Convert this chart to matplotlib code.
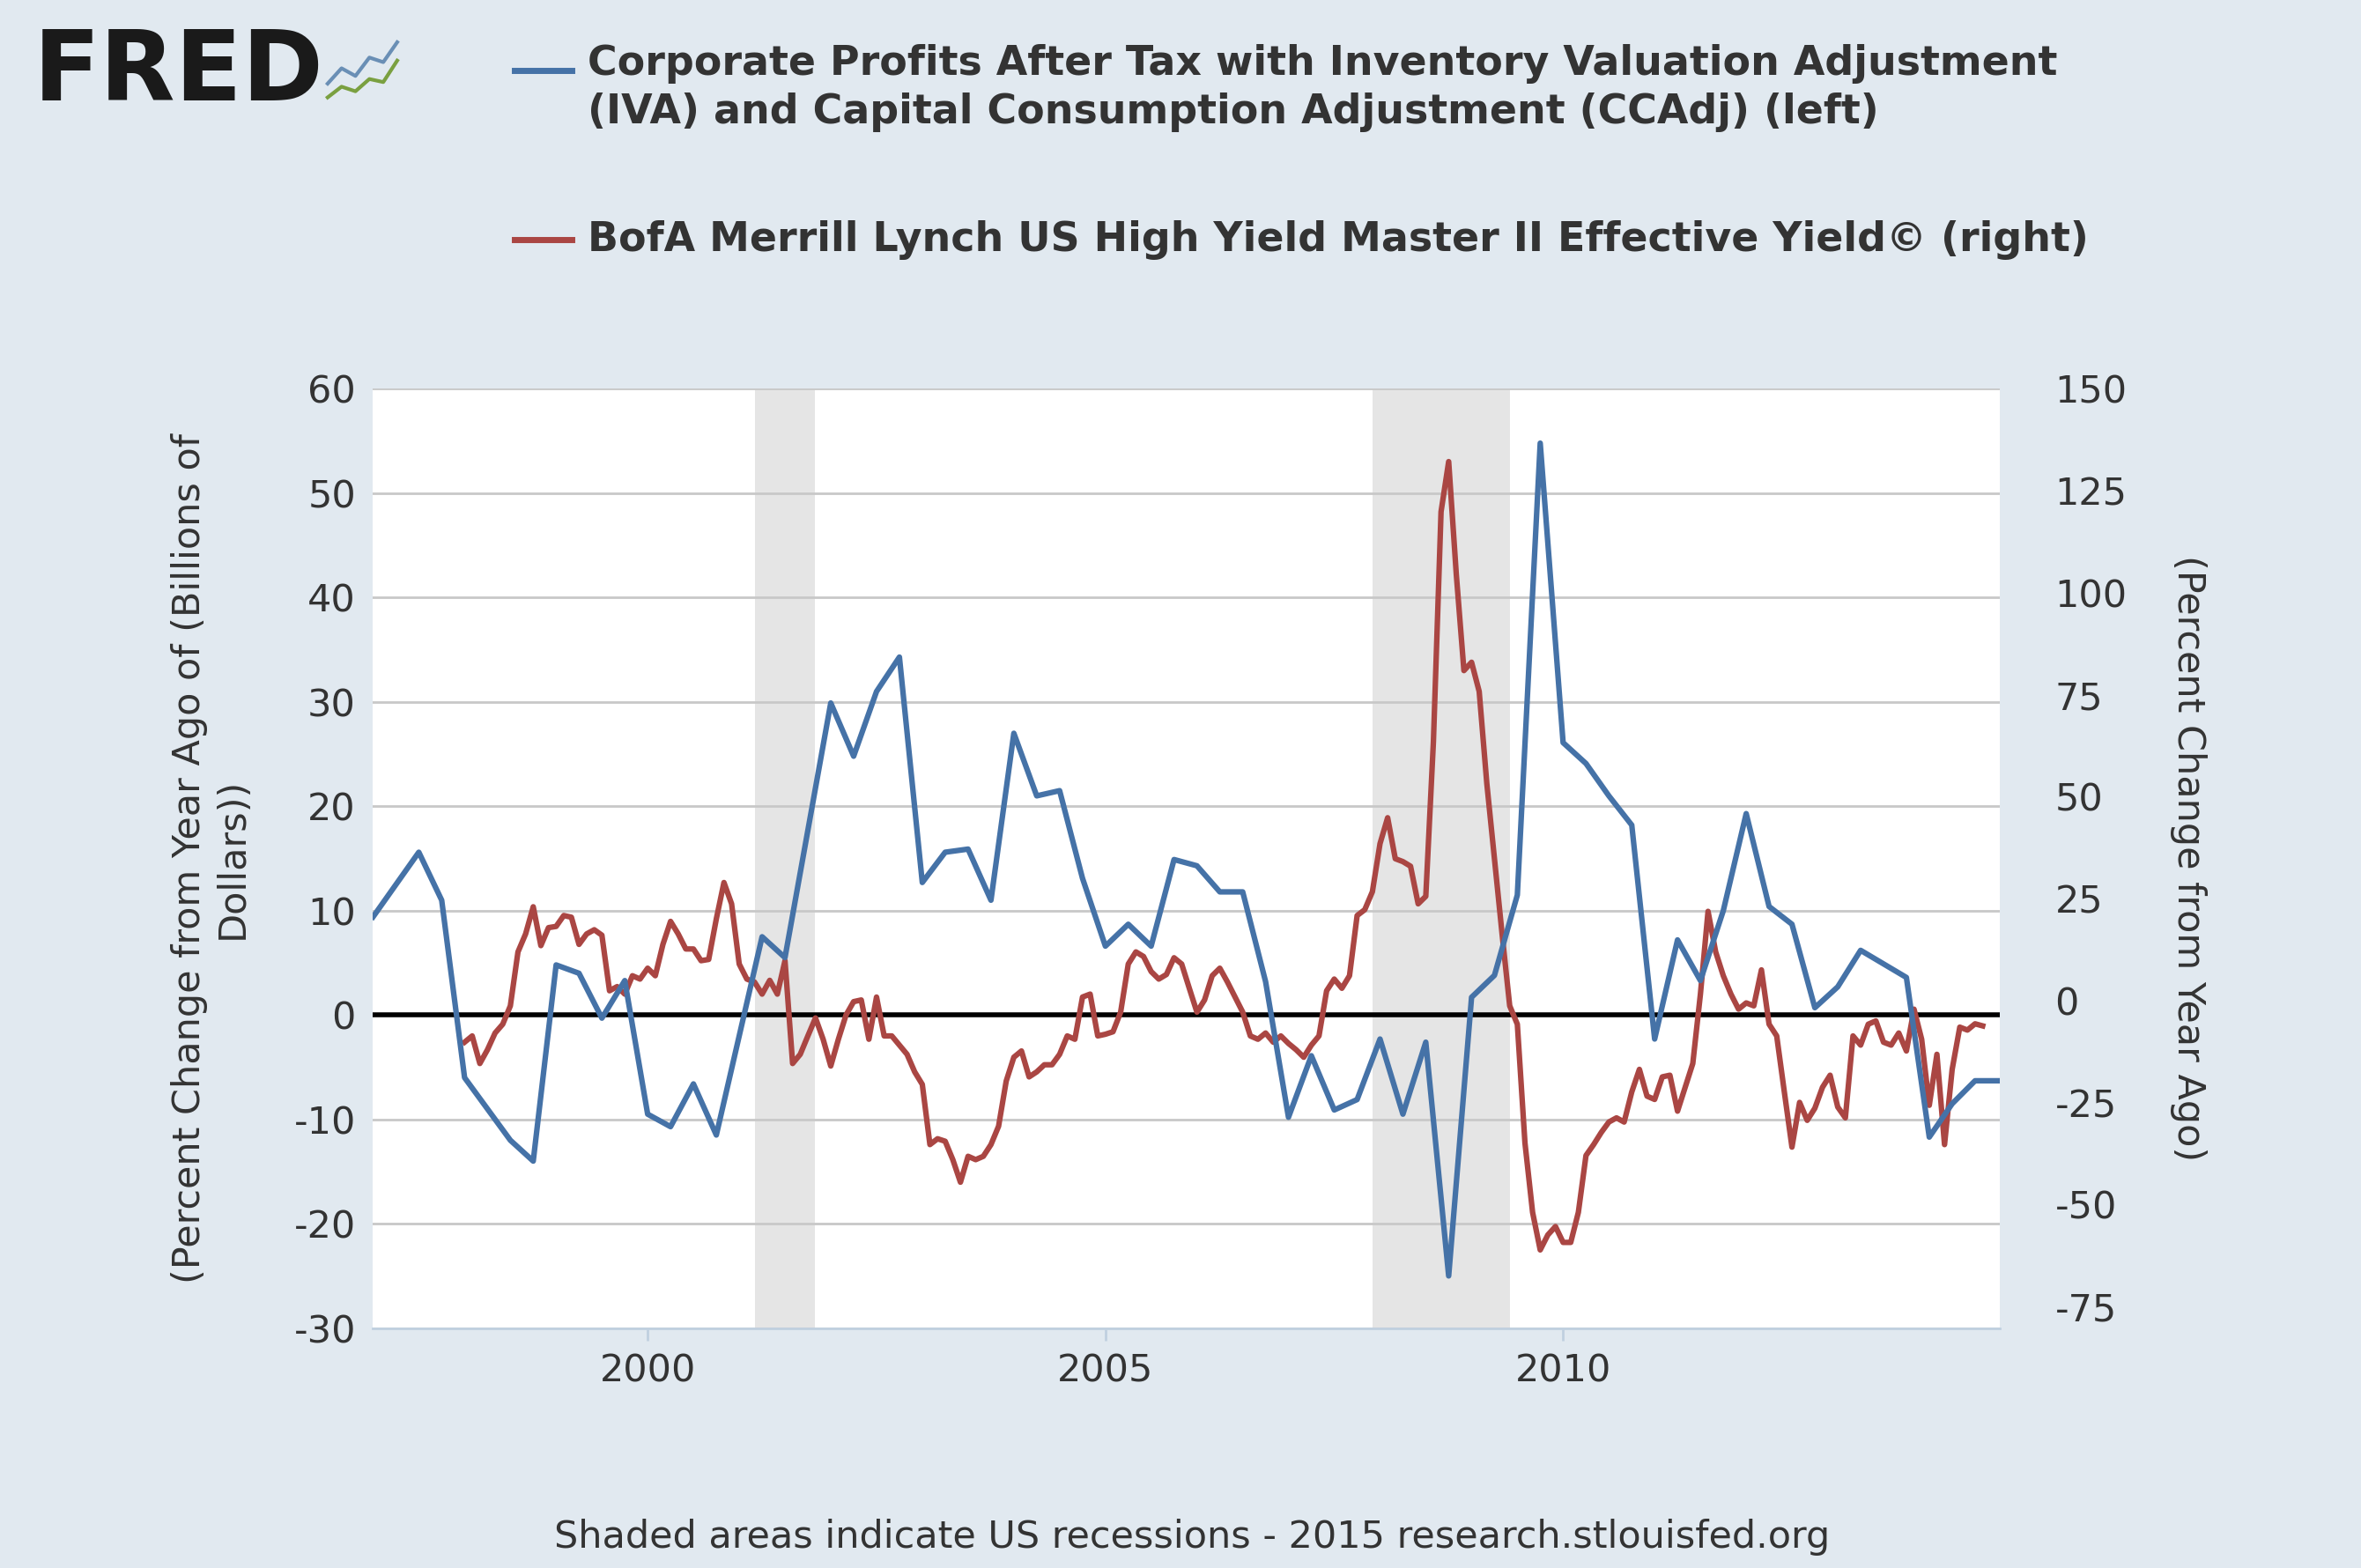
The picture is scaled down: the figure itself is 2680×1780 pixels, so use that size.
import matplotlib
matplotlib.use("Agg")
import matplotlib.pyplot as plt
import numpy as np

plt.rcParams["axes.unicode_minus"] = False

# Blue: quarterly corporate profits % change (left)
blue_t = [1997.0,1997.25,1997.5,1997.75,1998.0,1998.25,1998.5,1998.75,1999.0,1999.25,1999.5,1999.75,
          2000.0,2000.25,2000.5,2000.75,2001.0,2001.25,2001.5,2001.75,2002.0,2002.25,2002.5,2002.75,
          2003.0,2003.25,2003.5,2003.75,2004.0,2004.25,2004.5,2004.75,2005.0,2005.25,2005.5,2005.75,
          2006.0,2006.25,2006.5,2006.75,2007.0,2007.25,2007.5,2007.75,2008.0,2008.25,2008.5,2008.75,
          2009.0,2009.25,2009.5,2009.75,2010.0,2010.25,2010.5,2010.75,2011.0,2011.25,2011.5,2011.75,
          2012.0,2012.25,2012.5,2012.75,2013.0,2013.25,2013.5,2013.75,2014.0,2014.25,2014.5,2014.75]
blue_v = [9.4,12.5,15.6,11.0,-6.0,-9.0,-12.0,-14.0,4.8,4.0,-0.3,3.3,
          -9.5,-10.7,-6.6,-11.5,-2.0,7.5,5.5,17.7,29.9,24.8,31.0,34.3,
          12.7,15.6,15.9,11.0,27.0,21.0,21.5,13.1,6.6,8.7,6.6,14.9,
          14.3,11.8,11.8,3.2,-9.8,-3.9,-9.1,-8.1,-2.3,-9.5,-2.6,-25.0,
          1.7,3.8,11.5,54.8,26.1,24.1,21.0,18.2,-2.3,7.2,3.3,10.0,
          19.3,10.4,8.7,0.7,2.7,6.2,4.9,3.6,-11.7,-8.5,-6.3,-6.3]

# Red: monthly high-yield effective yield % change (right), from Jan 1998
red_v = [-11.9,-10.4,-17,-13.7,-9.7,-7.6,-3.2,9.7,14,20.5,11.2,15.5,
         15.8,18.4,18,11.5,14,15,13.7,0.4,1.4,-0.4,4,3.2,
         5.8,4,11.5,17,14,10.4,10.4,7.6,7.9,17.6,26.3,21.2,
         6.8,3.2,2.5,-0.4,2.9,-0.4,7.6,-17,-14.8,-10.4,-6.1,-11.2,
         -17.6,-11.2,-5.4,-2.2,-1.8,-11.2,-1.1,-10.4,-10.4,-12.6,-14.8,-19,
         -22,-36.4,-35,-35.6,-40,-45.4,-39.2,-40,-39.2,-36.4,-32,-21.2,
         -15.5,-14,-20.2,-19,-17.3,-17.3,-14.8,-10.4,-11.2,-1.1,-0.4,-10.4,
         -10,-9.4,-4.7,6.8,9.7,8.6,5,3.2,4.3,8.3,6.8,1,
         -4.7,-1.8,4,5.8,2.5,-1.1,-4.7,-10.4,-11.2,-9.7,-11.9,-10.4,
         -12.2,-13.7,-15.5,-12.6,-10.4,0.4,3.2,1,4,18.4,19.8,24.1,
         35.6,41.8,32,31.3,30.2,21.2,23,60,115,127,100,77,
         79,72,50,32,14,-3.2,-7.6,-36,-52.6,-61.6,-58,-56,
         -59.8,-59.8,-52.6,-39,-36.4,-33.5,-31,-30,-31,-23.8,-18.4,-24.8,
         -25.6,-20.2,-19.8,-28.4,-22.7,-17,-0.4,19.4,9.7,4,-0.4,-4,
         -2.5,-3.2,5.4,-7.6,-10.4,-23.8,-37,-26.3,-30.6,-27.7,-22.7,-19.8,
         -27.4,-30,-10.4,-12.6,-7.6,-6.8,-11.9,-12.6,-9.7,-14,-4,-11.2,
         -27,-14.8,-36.4,-18.4,-8.3,-9,-7.5,-8]
red_t = 1998.0 + np.arange(len(red_v)) / 12.0

recessions = [(2001.17, 2001.83), (2007.92, 2009.42)]

L_LIM = (-30, 60)
R_LIM = (-80.3, 144.4)
red_on_left = [L_LIM[0] + (r - R_LIM[0]) / (R_LIM[1] - R_LIM[0]) * (L_LIM[1] - L_LIM[0]) for r in red_v]

BG = "#e1e9f0"
fig = plt.figure(figsize=(26.8, 17.8), dpi=100, facecolor=BG)
ax = fig.add_axes([0.158, 0.153, 0.689, 0.599])
ax.set_facecolor("white")
for a, b in recessions:
    ax.axvspan(a, b, color="#e5e5e5", zorder=0, lw=0)
for y in range(-30, 61, 10):
    ax.axhline(y, color="#c8c8c8", lw=2, zorder=1)
ax.axhline(0, color="black", lw=4, zorder=2)
ax.plot(red_t, red_on_left, color="#aa4643", lw=4.5, zorder=3)
ax.plot(blue_t, blue_v, color="#4572a7", lw=4.5, zorder=4)
ax.set_xlim(1997.0, 2014.77)
ax.set_ylim(*L_LIM)
ax.set_yticks(range(-30, 61, 10))
ax.set_xticks([2000, 2005, 2010])
for s in ["top", "left", "right"]:
    ax.spines[s].set_visible(False)
ax.spines["bottom"].set_color("#c0d0e0")
ax.spines["bottom"].set_linewidth(2)
ax.tick_params(axis="y", length=0, labelsize=31, labelcolor="#333333", pad=14)
ax.tick_params(axis="x", length=10, width=2, color="#c0d0e0", labelsize=31, labelcolor="#333333", pad=10)
ax.set_ylabel("(Percent Change from Year Ago of (Billions of\nDollars))", fontsize=31, color="#333333", labelpad=35)

ax2 = ax.twinx()
ax2.set_ylim(*R_LIM)
ax2.set_yticks(range(-75, 151, 25))
for s in ["top", "left", "right", "bottom"]:
    ax2.spines[s].set_visible(False)
ax2.tick_params(axis="y", length=0, labelsize=31, labelcolor="#333333", pad=45)
ax2.set_ylabel("(Percent Change from Year Ago)", fontsize=31, color="#333333", rotation=270, labelpad=65)

# legend
fig.lines.append(plt.Line2D([0.218, 0.242], [0.955, 0.955], transform=fig.transFigure, color="#4572a7", lw=5))
fig.text(0.249, 0.972, "Corporate Profits After Tax with Inventory Valuation Adjustment\n(IVA) and Capital Consumption Adjustment (CCAdj) (left)",
         fontsize=33, fontweight="bold", color="#333333", va="top", ha="left", linespacing=1.3)
fig.lines.append(plt.Line2D([0.218, 0.242], [0.847, 0.847], transform=fig.transFigure, color="#aa4643", lw=5))
fig.text(0.249, 0.847, "BofA Merrill Lynch US High Yield Master II Effective Yield© (right)",
         fontsize=33, fontweight="bold", color="#333333", va="center", ha="left")

# FRED logo
fig.text(0.014, 0.953, "FRED", fontsize=80, fontweight="bold", color="#1a1a1a", va="center", ha="left")
lax = fig.add_axes([0.137, 0.932, 0.033, 0.045])
lax.plot([0, 1, 2, 3, 4, 5], [1.5, 2.5, 2.0, 3.2, 2.9, 4.2], color="#6a8fb5", lw=3)
lax.plot([0, 1, 2, 3, 4, 5], [0.6, 1.3, 1.0, 1.8, 1.6, 3.0], color="#7aa040", lw=3)
lax.set_xlim(-0.3, 5.3); lax.set_ylim(0, 4.6)
lax.axis("off")

fig.text(0.505, 0.008, "Shaded areas indicate US recessions - 2015 research.stlouisfed.org",
         fontsize=31, color="#333333", ha="center", va="bottom")

fig.savefig("out.png", dpi=100, facecolor=BG)
